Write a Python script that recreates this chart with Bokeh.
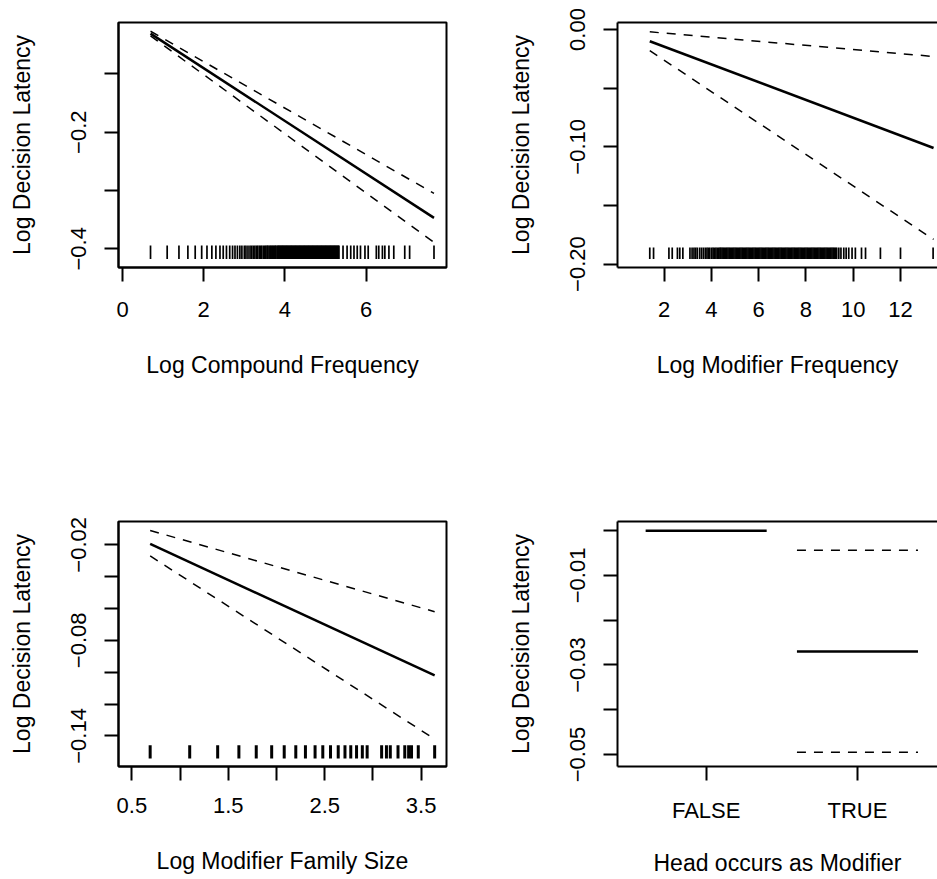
from bokeh.plotting import figure
from bokeh.layouts import column, row
from bokeh.models import Range1d, FixedTicker, LinearAxis, ColumnDataSource
from bokeh.embed import file_html
from bokeh.resources import INLINE

FONT = "Liberation Sans"

# ---------------- data ----------------
# Panel 1: Log Compound Frequency
cf_x = [0.69, 7.67]
cf_fit = [-0.031, -0.347]
cf_upper = [-0.027, -0.305]
cf_lower = [-0.035, -0.389]
cf_rug = [0.69, 1.10, 1.39, 1.61, 1.79, 1.95, 2.08, 2.20, 2.30, 2.40, 2.48, 2.56, 2.64,
          2.71, 2.77, 2.83, 2.89, 2.94, 3.00, 3.04, 3.09, 3.14, 3.18, 3.22, 3.26, 3.30, 3.33,
          3.37, 3.40, 3.43, 3.47, 3.50, 3.53, 3.56, 3.58, 3.61, 3.64, 3.66, 3.69, 3.71, 3.74,
          3.76, 3.78, 3.81, 3.83, 3.85, 3.87, 3.89, 3.91, 3.93, 3.95, 3.97, 3.99, 4.01, 4.03,
          4.05, 4.07, 4.09, 4.11, 4.13, 4.15, 4.17, 4.19, 4.21, 4.23, 4.25, 4.27, 4.29, 4.31,
          4.33, 4.35, 4.37, 4.39, 4.41, 4.43, 4.45, 4.47, 4.49, 4.51, 4.53, 4.55, 4.57, 4.59,
          4.61, 4.63, 4.65, 4.67, 4.69, 4.71, 4.73, 4.75, 4.77, 4.79, 4.81, 4.83, 4.85, 4.87,
          4.89, 4.91, 4.93, 4.95, 4.97, 4.99, 5.01, 5.03, 5.05, 5.07, 5.09, 5.11, 5.13, 5.15,
          5.17, 5.19, 5.21, 5.23, 5.25, 5.27, 5.29, 5.31, 5.33,
          5.43, 5.53, 5.62, 5.70, 5.78, 5.86, 5.97, 6.05, 6.25, 6.31, 6.40, 6.46, 6.56, 6.68,
          6.95, 7.07, 7.67]
cf_yticks = [-0.1, -0.2, -0.3, -0.4]
cf_ylabels = ["", "\u22120.2", "", "\u22120.4"]
cf_xticks = [0, 2, 4, 6]
cf_xlabels = ["0", "2", "4", "6"]

# Panel 2: Log Modifier Frequency
mf_x = [1.39, 13.40]
mf_fit = [-0.010, -0.101]
mf_upper = [-0.002, -0.023]
mf_lower = [-0.018, -0.179]
mf_rug = [1.39, 1.55, 2.20, 2.34, 2.56, 2.66, 2.79, 3.09, 3.18, 3.26, 3.33, 3.40, 3.50, 3.58,
          3.66, 3.74, 3.81, 3.87, 3.93, 4.01, 4.07, 4.13, 4.19, 4.25, 4.31, 4.36,
          4.40, 4.45, 4.50, 4.55, 4.60, 4.65, 4.70, 4.75, 4.80, 4.85, 4.90, 4.95,
          5.00, 5.05, 5.10, 5.15, 5.20, 5.25, 5.30, 5.35, 5.40, 5.45, 5.50, 5.55, 5.60, 5.65,
          5.70, 5.75, 5.80, 5.85, 5.90, 5.95, 6.00, 6.05, 6.10, 6.15, 6.20, 6.25, 6.30, 6.35,
          6.40, 6.45, 6.50, 6.55, 6.60, 6.65, 6.70, 6.75, 6.80, 6.85, 6.90, 6.95, 7.00, 7.05,
          7.10, 7.15, 7.20, 7.25, 7.30, 7.35, 7.40, 7.45, 7.50, 7.55, 7.60, 7.65, 7.70, 7.75,
          7.80, 7.85, 7.90, 7.95, 8.00, 8.05, 8.10, 8.15, 8.20, 8.25, 8.30, 8.35, 8.40, 8.45,
          8.50, 8.55, 8.60, 8.65, 8.70, 8.75, 8.80, 8.85, 8.90, 8.95, 9.00, 9.05, 9.10, 9.15,
          9.20, 9.25, 9.30,
          9.39, 9.48, 9.60, 9.70, 9.81, 9.95, 10.09, 10.35, 10.52, 11.15, 12.00, 13.38]
mf_yticks = [0.0, -0.05, -0.10, -0.15, -0.20]
mf_ylabels = ["0.00", "", "\u22120.10", "", "\u22120.20"]
mf_xticks = [2, 4, 6, 8, 10, 12]
mf_xlabels = ["2", "4", "6", "8", "10", "12"]

# Panel 3: Log Modifier Family Size
mfs_x = [0.69, 3.64]
mfs_fit = [-0.0194, -0.102]
mfs_upper = [-0.011, -0.062]
mfs_lower = [-0.027, -0.142]
mfs_rug = [0.69, 1.10, 1.39, 1.61, 1.79, 1.95, 2.08, 2.20, 2.30, 2.40, 2.48, 2.56, 2.64,
           2.71, 2.77, 2.83, 2.89, 2.94, 3.09, 3.14, 3.18, 3.26, 3.33, 3.37, 3.40, 3.47, 3.64]
mfs_yticks = [-0.02, -0.04, -0.06, -0.08, -0.10, -0.12, -0.14]
mfs_ylabels = ["\u22120.02", "", "", "\u22120.08", "", "", "\u22120.14"]
mfs_xticks = [0.5, 1.0, 1.5, 2.0, 2.5, 3.0, 3.5]
mfs_xlabels = ["0.5", "", "1.5", "", "2.5", "", "3.5"]

# Panel 4: Head occurs as Modifier
hm_cats = ["FALSE", "TRUE"]
hm_fit = [0.0, -0.0270]
hm_upper = [float("nan"), -0.0044]
hm_lower = [float("nan"), -0.0495]
hm_yticks = [0.0, -0.01, -0.02, -0.03, -0.04, -0.05]
hm_ylabels = ["", "\u22120.01", "", "\u22120.03", "", "\u22120.05"]

YLAB = "Log Decision Latency"
DASH = "9 8"


def make_fig(width, height, xr, yr, lb, rb, tb, bb, xticks, xlabels, yticks, ylabels,
             xlab, full_box, xstand, xlabstand):
    p = figure(width=width, height=height, x_range=Range1d(*xr), y_range=Range1d(*yr),
               output_backend="svg", toolbar_location=None,
               min_border_left=lb, min_border_right=rb, min_border_top=tb,
               min_border_bottom=bb)
    p.grid.visible = False
    p.background_fill_color = "white"
    p.border_fill_color = "white"
    xax = p.below[0]
    yax = p.left[0]
    for ax, ticks, labels in ((xax, xticks, xlabels), (yax, yticks, ylabels)):
        ax.ticker = FixedTicker(ticks=ticks)
        ax.major_label_overrides = {t: l for t, l in zip(ticks, labels)}
        ax.axis_line_width = 2
        ax.axis_line_color = "black"
        ax.major_tick_line_width = 2
        ax.major_tick_line_color = "black"
        ax.major_tick_in = 0
        ax.major_tick_out = 14
        ax.minor_tick_line_color = None
        ax.major_label_text_font = FONT
        ax.major_label_text_font_size = "22px"
        ax.major_label_text_color = "black"
        ax.axis_label_text_font = FONT
        ax.axis_label_text_font_size = "23px"
        ax.axis_label_text_font_style = "normal"
        ax.axis_label_text_color = "black"
    xax.major_label_standoff = xstand
    xax.axis_label_standoff = xlabstand
    yax.major_label_orientation = "vertical"
    yax.major_label_standoff = 18
    yax.axis_label_standoff = 34
    xax.axis_label = xlab
    yax.axis_label = YLAB
    if full_box:
        p.outline_line_color = "black"
        p.outline_line_width = 2
        p.outline_line_alpha = 1
    else:
        p.outline_line_color = None
        top = LinearAxis(ticker=FixedTicker(ticks=[]), major_label_text_font_size="0px",
                         axis_line_width=2, axis_line_color="black",
                         major_tick_line_color=None, minor_tick_line_color=None,
                         major_tick_out=0, major_tick_in=0, major_label_standoff=0,
                         axis_label=None)
        p.add_layout(top, "above")
    return p


def add_effect(p, xs, fit, upper, lower):
    p.line(xs, fit, line_color="black", line_width=2.5)
    p.line(xs, upper, line_color="black", line_width=1.5, line_dash=DASH)
    p.line(xs, lower, line_color="black", line_width=1.5, line_dash=DASH)


def add_rug(p, vals, y0, y1, lw):
    src = ColumnDataSource(dict(x=vals, y0=[y0] * len(vals), y1=[y1] * len(vals)))
    p.segment(x0="x", y0="y0", x1="x", y1="y1", source=src, line_color="black",
              line_width=lw)


# Panel 1
p1 = make_fig(468, 439, (-0.0985, 7.978), (-0.432, -0.012), 118, 22, 22, 172,
              cf_xticks, cf_xlabels, cf_yticks, cf_ylabels, "Log Compound Frequency", True,
              20, 32)
add_effect(p1, cf_x, cf_fit, cf_upper, cf_lower)
add_rug(p1, cf_rug, -0.3944, -0.4173, 1.7)

# Panel 2
p2 = make_fig(469, 439, (0.024, 13.566), (-0.2029, 0.00597), 149, 0, 22, 172,
              mf_xticks, mf_xlabels, mf_yticks, mf_ylabels, "Log Modifier Frequency", False,
              20, 32)
add_effect(p2, mf_x, mf_fit, mf_upper, mf_lower)
add_rug(p2, mf_rug, -0.1858, -0.1957, 1.7)

# Panel 3
p3 = make_fig(468, 440, (0.3617, 3.7627), (-0.1592, -0.00537), 118, 22, 82, 113,
              mfs_xticks, mfs_xlabels, mfs_yticks, mfs_ylabels, "Log Modifier Family Size", True,
              17, 32)
add_effect(p3, mfs_x, mfs_fit, mfs_upper, mfs_lower)
add_rug(p3, mfs_rug, -0.1459, -0.1542, 3)

# Panel 4
hm_pos = [i + 1 for i in range(len(hm_cats))]
p4 = make_fig(469, 440, (0.414, 2.529), (-0.05268, 0.00205), 149, 0, 82, 113,
              hm_pos, hm_cats, hm_yticks, hm_ylabels, "Head occurs as Modifier", False,
              17, 24)
half = 0.4
src4 = ColumnDataSource(dict(x0=[x - half for x in hm_pos], x1=[x + half for x in hm_pos],
                             fit=hm_fit, up=hm_upper, lo=hm_lower))
p4.segment(x0="x0", y0="fit", x1="x1", y1="fit", source=src4, line_color="black", line_width=2.5)
p4.segment(x0="x0", y0="up", x1="x1", y1="up", source=src4, line_color="black",
           line_width=1.5, line_dash=DASH)
p4.segment(x0="x0", y0="lo", x1="x1", y1="lo", source=src4, line_color="black",
           line_width=1.5, line_dash=DASH)

layout = column(row(p1, p2, spacing=0), row(p3, p4, spacing=0), spacing=0)

open("out.html", "w").write(file_html(layout, INLINE))
